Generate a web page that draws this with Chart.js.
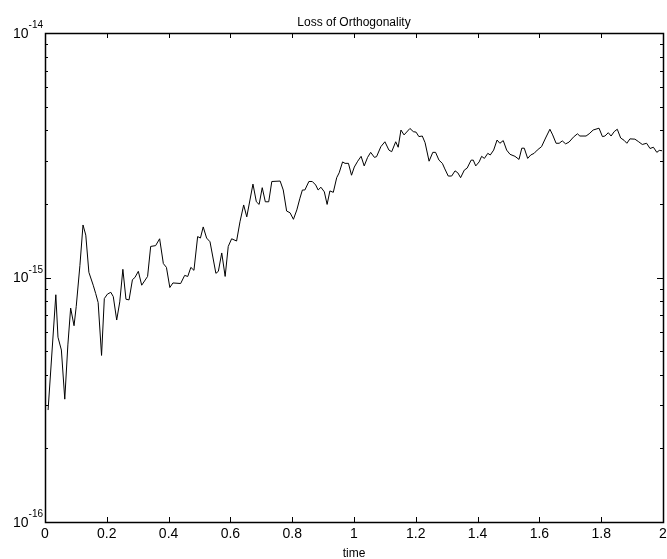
<!DOCTYPE html>
<html>
<head>
<meta charset="utf-8">
<title>Loss of Orthogonality</title>
<script src="https://cdn.jsdelivr.net/npm/chart.js@4/dist/chart.umd.min.js"></script>
<style>
  html, body { margin: 0; padding: 0; background: #fff; }
  #wrap { width: 667px; height: 559px; }
</style>
</head>
<body>
<div id="wrap"><canvas id="lossChart" width="667" height="559"></canvas></div>
<script>
// time samples
const times = [
  0.010, 0.035, 0.042, 0.053, 0.064, 0.074, 0.083, 0.094, 0.101, 0.113,
  0.123, 0.132, 0.142, 0.156, 0.164, 0.172, 0.183, 0.192, 0.202, 0.213,
  0.221, 0.232, 0.242, 0.252, 0.262, 0.272, 0.283, 0.291, 0.302, 0.313,
  0.332, 0.342, 0.358, 0.371, 0.383, 0.393, 0.404, 0.414, 0.439, 0.452,
  0.462, 0.472, 0.482, 0.494, 0.503, 0.512, 0.523, 0.534, 0.553, 0.561,
  0.572, 0.583, 0.593, 0.604, 0.620, 0.631, 0.643, 0.653, 0.673, 0.684,
  0.693, 0.703, 0.713, 0.724, 0.734, 0.761, 0.771, 0.782, 0.793, 0.804,
  0.815, 0.825, 0.833, 0.841, 0.854, 0.865, 0.876, 0.884, 0.893, 0.904,
  0.913, 0.922, 0.933, 0.944, 0.952, 0.963, 0.971, 0.982, 0.992, 1.001,
  1.012, 1.023, 1.033, 1.044, 1.054, 1.066, 1.073, 1.087, 1.100, 1.113,
  1.122, 1.135, 1.143, 1.152, 1.162, 1.181, 1.192, 1.201, 1.210, 1.221,
  1.230, 1.243, 1.255, 1.264, 1.275, 1.286, 1.294, 1.305, 1.316, 1.327,
  1.336, 1.345, 1.357, 1.366, 1.379, 1.386, 1.394, 1.405, 1.413, 1.422,
  1.433, 1.441, 1.452, 1.463, 1.472, 1.483, 1.494, 1.505, 1.521, 1.534,
  1.543, 1.551, 1.562, 1.572, 1.583, 1.593, 1.607, 1.620, 1.634, 1.643,
  1.654, 1.664, 1.674, 1.685, 1.696, 1.710, 1.723, 1.731, 1.751, 1.761,
  1.774, 1.793, 1.804, 1.812, 1.823, 1.832, 1.842, 1.852, 1.863, 1.874,
  1.883, 1.893, 1.909, 1.920, 1.933, 1.947, 1.958, 1.969, 1.980, 1.988,
  1.997
];

// loss of orthogonality at each sample
const loss = [
  2.87e-16, 8.5e-16, 5.7e-16, 5.05e-16, 3.18e-16, 5.3e-16, 7.5e-16, 6.35e-16, 7.6e-16, 1.12e-15,
  1.64e-15, 1.49e-15, 1.05e-15, 9.3e-16, 8.6e-16, 7.9e-16, 4.8e-16, 8.2e-16, 8.55e-16, 8.7e-16,
  8.35e-16, 6.7e-16, 7.95e-16, 1.08e-15, 8.15e-16, 8.1e-16, 9.8e-16, 1.0e-15, 1.06e-15, 9.3e-16,
  1.01e-15, 1.34e-15, 1.35e-15, 1.44e-15, 1.14e-15, 1.1e-15, 9.1e-16, 9.5e-16, 9.45e-16, 1.02e-15,
  1.01e-15, 1.1e-15, 1.07e-15, 1.47e-15, 1.45e-15, 1.61e-15, 1.45e-15, 1.40e-15, 1.04e-15, 1.06e-15,
  1.26e-15, 1.01e-15, 1.34e-15, 1.44e-15, 1.41e-15, 1.69e-15, 1.98e-15, 1.77e-15, 2.41e-15, 2.04e-15,
  1.99e-15, 2.33e-15, 2.04e-15, 2.04e-15, 2.47e-15, 2.48e-15, 2.28e-15, 1.87e-15, 1.84e-15, 1.73e-15,
  1.89e-15, 2.11e-15, 2.28e-15, 2.28e-15, 2.47e-15, 2.47e-15, 2.39e-15, 2.28e-15, 2.34e-15, 2.24e-15,
  1.99e-15, 2.26e-15, 2.23e-15, 2.56e-15, 2.68e-15, 2.97e-15, 2.93e-15, 2.93e-15, 2.62e-15, 2.83e-15,
  2.99e-15, 3.13e-15, 2.86e-15, 3.10e-15, 3.25e-15, 3.10e-15, 3.12e-15, 3.43e-15, 3.59e-15, 3.32e-15,
  3.27e-15, 3.59e-15, 3.41e-15, 4.01e-15, 3.83e-15, 4.07e-15, 3.95e-15, 3.93e-15, 3.77e-15, 3.79e-15,
  3.56e-15, 2.99e-15, 3.25e-15, 3.25e-15, 3.02e-15, 2.93e-15, 2.78e-15, 2.60e-15, 2.60e-15, 2.73e-15,
  2.68e-15, 2.56e-15, 2.75e-15, 2.80e-15, 3.02e-15, 3.02e-15, 2.86e-15, 2.97e-15, 3.13e-15, 3.07e-15,
  3.22e-15, 3.17e-15, 3.32e-15, 3.65e-15, 3.54e-15, 3.63e-15, 3.32e-15, 3.19e-15, 3.13e-15, 3.04e-15,
  3.38e-15, 3.38e-15, 3.07e-15, 3.17e-15, 3.22e-15, 3.32e-15, 3.43e-15, 3.72e-15, 4.04e-15, 3.83e-15,
  3.54e-15, 3.54e-15, 3.62e-15, 3.52e-15, 3.58e-15, 3.75e-15, 3.87e-15, 3.79e-15, 3.79e-15, 3.87e-15,
  4.01e-15, 4.08e-15, 3.77e-15, 3.79e-15, 3.91e-15, 3.79e-15, 3.95e-15, 4.04e-15, 3.72e-15, 3.64e-15,
  3.54e-15, 3.69e-15, 3.68e-15, 3.60e-15, 3.50e-15, 3.54e-15, 3.37e-15, 3.41e-15, 3.25e-15, 3.31e-15,
  3.30e-15
];

const xTicks = [0, 0.2, 0.4, 0.6, 0.8, 1, 1.2, 1.4, 1.6, 1.8, 2];
const xTickLabels = ["0", "0.2", "0.4", "0.6", "0.8", "1", "1.2", "1.4", "1.6", "1.8", "2"];
const yDecades = [-16, -15, -14];

const FONT = "Liberation Sans, Arial, Helvetica, sans-serif";

// matlab-ish frame, inward ticks and labels
const axesPlugin = {
  id: "matlabAxes",
  afterDraw(chart) {
    const ctx = chart.ctx;
    const ca = chart.chartArea;
    const xs = chart.scales.x;
    const ys = chart.scales.y;

    ctx.save();
    ctx.strokeStyle = "#000";
    ctx.lineWidth = 1.5;
    ctx.strokeRect(Math.round(ca.left) + 0.5, Math.round(ca.top) + 0.5,
      Math.round(ca.right - ca.left), Math.round(ca.bottom - ca.top));

    ctx.lineWidth = 1;
    ctx.beginPath();
    xTicks.forEach(t => {
      const px = Math.round(xs.getPixelForValue(t)) + 0.5;
      ctx.moveTo(px, ca.bottom); ctx.lineTo(px, ca.bottom - 5);
      ctx.moveTo(px, ca.top); ctx.lineTo(px, ca.top + 5);
    });
    for (let k = yDecades[0]; k < yDecades[yDecades.length - 1]; k++) {
      for (let m = 1; m <= 9; m++) {
        const py = Math.round(ys.getPixelForValue(m * Math.pow(10, k))) + 0.5;
        const len = m === 1 ? 6 : 3;
        ctx.moveTo(ca.left, py); ctx.lineTo(ca.left + len, py);
        ctx.moveTo(ca.right, py); ctx.lineTo(ca.right - len, py);
      }
    }
    ctx.stroke();

    ctx.fillStyle = "#000";
    ctx.font = "14px " + FONT;
    ctx.textAlign = "center";
    ctx.textBaseline = "top";
    xTicks.forEach((t, i) => {
      ctx.fillText(xTickLabels[i], xs.getPixelForValue(t), ca.bottom + 5);
    });

    yDecades.forEach(k => {
      const py = ys.getPixelForValue(Math.pow(10, k));
      ctx.font = "10px " + FONT;
      ctx.textAlign = "right";
      ctx.textBaseline = "alphabetic";
      const sup = "-" + Math.abs(k);
      ctx.fillText(sup, ca.left - 2, py - 5);
      const supW = ctx.measureText(sup).width;
      ctx.font = "14px " + FONT;
      ctx.textBaseline = "middle";
      ctx.fillText("10", ca.left - 2 - supW, py + 1);
    });

    ctx.font = "12px " + FONT;
    ctx.textAlign = "center";
    ctx.textBaseline = "alphabetic";
    ctx.fillText("Loss of Orthogonality", (ca.left + ca.right) / 2, ca.top - 7);
    ctx.fillText("time", (ca.left + ca.right) / 2, ca.bottom + 35);
    ctx.restore();
  }
};

const points = times.map((t, i) => ({ x: t, y: loss[i] }));

new Chart(document.getElementById("lossChart"), {
  type: "line",
  data: {
    datasets: [{
      data: points,
      borderColor: "#000",
      borderWidth: 1,
      pointRadius: 0,
      tension: 0,
      fill: false
    }]
  },
  options: {
    responsive: false,
    animation: false,
    devicePixelRatio: 1,
    layout: { padding: { left: 45, right: 4, top: 33, bottom: 37 } },
    plugins: { legend: { display: false }, tooltip: { enabled: false } },
    scales: {
      x: { type: "linear", min: 0, max: 2, display: false },
      y: { type: "logarithmic", min: 1e-16, max: 1e-14, display: false }
    }
  },
  plugins: [axesPlugin]
});
</script>
</body>
</html>
